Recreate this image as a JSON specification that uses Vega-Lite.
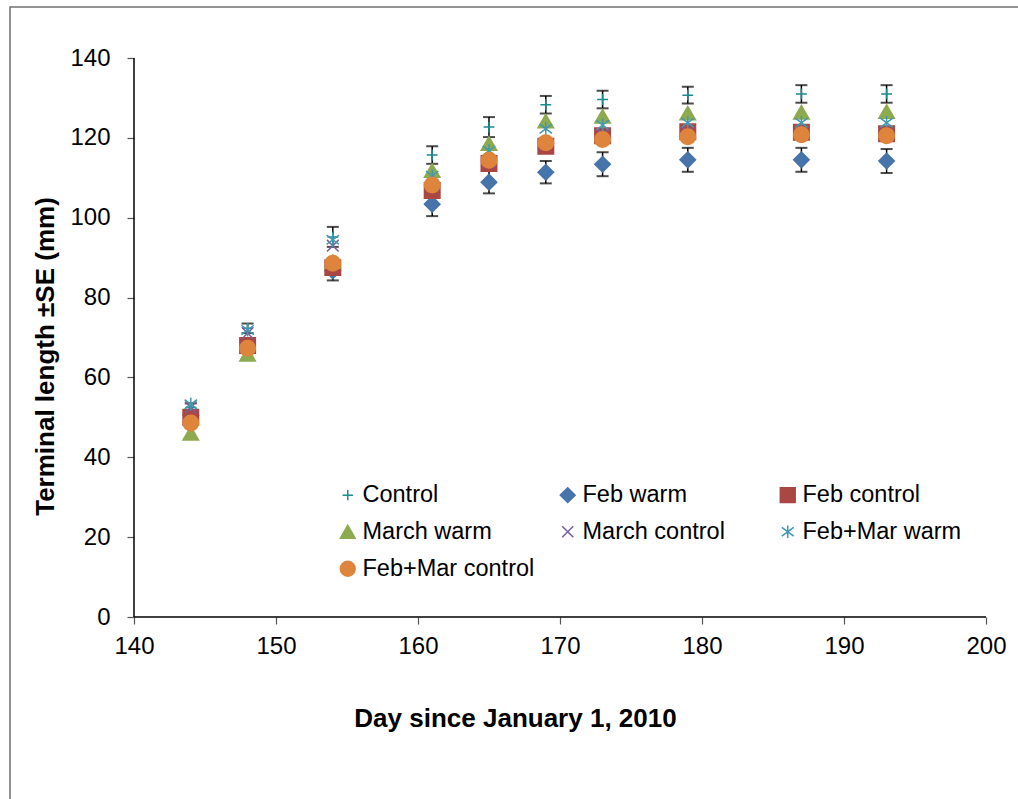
{
  "$schema": "https://vega.github.io/schema/vega-lite/v6.json",
  "width": 1008,
  "height": 792,
  "autosize": "none",
  "padding": {"left": 10, "top": 7, "right": 0, "bottom": 0},
  "background": "white",
  "config": {
    "view": {"stroke": "#707070", "strokeWidth": 1.5, "strokeDash": [1008, 1800, 792]},
    "font": "Liberation Sans",
    "axis": {
      "grid": false,
      "domain": false,
      "tickColor": "#555555",
      "tickWidth": 1.2,
      "tickSize": 7,
      "labelColor": "black",
      "labelFontSize": 24,
      "titleColor": "black",
      "titleFontSize": 26,
      "titleFontWeight": "bold"
    }
  },
  "datasets": {
    "growth": [
      {"day": 144, "series": "Control", "len": 52.5, "se": 1.0},
      {"day": 148, "series": "Control", "len": 72.3, "se": 1.2},
      {"day": 154, "series": "Control", "len": 95.2, "se": 2.5},
      {"day": 161, "series": "Control", "len": 115.7, "se": 2.2},
      {"day": 165, "series": "Control", "len": 122.7, "se": 2.5},
      {"day": 169, "series": "Control", "len": 128.3, "se": 2.2},
      {"day": 173, "series": "Control", "len": 129.6, "se": 2.2},
      {"day": 179, "series": "Control", "len": 130.7, "se": 2.1},
      {"day": 187, "series": "Control", "len": 131.0, "se": 2.2},
      {"day": 193, "series": "Control", "len": 131.0, "se": 2.2},

      {"day": 144, "series": "Feb warm", "len": 50.5, "se": 1.0},
      {"day": 148, "series": "Feb warm", "len": 67.0, "se": 1.0},
      {"day": 154, "series": "Feb warm", "len": 86.7, "se": 2.4},
      {"day": 161, "series": "Feb warm", "len": 103.4, "se": 3.0},
      {"day": 165, "series": "Feb warm", "len": 108.9, "se": 2.8},
      {"day": 169, "series": "Feb warm", "len": 111.4, "se": 2.8},
      {"day": 173, "series": "Feb warm", "len": 113.4, "se": 3.0},
      {"day": 179, "series": "Feb warm", "len": 114.5, "se": 3.0},
      {"day": 187, "series": "Feb warm", "len": 114.5, "se": 3.0},
      {"day": 193, "series": "Feb warm", "len": 114.2, "se": 3.0},

      {"day": 144, "series": "Feb control", "len": 50.0},
      {"day": 148, "series": "Feb control", "len": 68.0},
      {"day": 154, "series": "Feb control", "len": 87.5},
      {"day": 161, "series": "Feb control", "len": 106.8},
      {"day": 165, "series": "Feb control", "len": 113.6},
      {"day": 169, "series": "Feb control", "len": 117.9},
      {"day": 173, "series": "Feb control", "len": 120.5},
      {"day": 179, "series": "Feb control", "len": 121.5},
      {"day": 187, "series": "Feb control", "len": 121.4},
      {"day": 193, "series": "Feb control", "len": 121.0},

      {"day": 144, "series": "March warm", "len": 46.0},
      {"day": 148, "series": "March warm", "len": 65.8},
      {"day": 154, "series": "March warm", "len": 89.0},
      {"day": 161, "series": "March warm", "len": 111.8},
      {"day": 165, "series": "March warm", "len": 118.6},
      {"day": 169, "series": "March warm", "len": 124.2},
      {"day": 173, "series": "March warm", "len": 125.4},
      {"day": 179, "series": "March warm", "len": 126.2},
      {"day": 187, "series": "March warm", "len": 126.4},
      {"day": 193, "series": "March warm", "len": 126.6},

      {"day": 144, "series": "March control", "len": 52.5},
      {"day": 148, "series": "March control", "len": 71.1},
      {"day": 154, "series": "March control", "len": 93.0},
      {"day": 161, "series": "March control", "len": 108.0},
      {"day": 165, "series": "March control", "len": 114.0},
      {"day": 169, "series": "March control", "len": 118.5},
      {"day": 173, "series": "March control", "len": 120.8},
      {"day": 179, "series": "March control", "len": 121.3},
      {"day": 187, "series": "March control", "len": 121.2},
      {"day": 193, "series": "March control", "len": 120.8},

      {"day": 144, "series": "Feb+Mar warm", "len": 53.3},
      {"day": 148, "series": "Feb+Mar warm", "len": 71.9},
      {"day": 154, "series": "Feb+Mar warm", "len": 94.5},
      {"day": 161, "series": "Feb+Mar warm", "len": 110.5},
      {"day": 165, "series": "Feb+Mar warm", "len": 116.8},
      {"day": 169, "series": "Feb+Mar warm", "len": 122.3},
      {"day": 173, "series": "Feb+Mar warm", "len": 123.2},
      {"day": 179, "series": "Feb+Mar warm", "len": 123.8},
      {"day": 187, "series": "Feb+Mar warm", "len": 123.8},
      {"day": 193, "series": "Feb+Mar warm", "len": 123.8},

      {"day": 144, "series": "Feb+Mar control", "len": 48.6},
      {"day": 148, "series": "Feb+Mar control", "len": 67.3},
      {"day": 154, "series": "Feb+Mar control", "len": 88.6},
      {"day": 161, "series": "Feb+Mar control", "len": 108.2},
      {"day": 165, "series": "Feb+Mar control", "len": 114.4},
      {"day": 169, "series": "Feb+Mar control", "len": 118.8},
      {"day": 173, "series": "Feb+Mar control", "len": 119.6},
      {"day": 179, "series": "Feb+Mar control", "len": 120.3},
      {"day": 187, "series": "Feb+Mar control", "len": 120.8},
      {"day": 193, "series": "Feb+Mar control", "len": 120.5}
    ],
    "axisLines": [
      {"x0": 140, "x1": 140, "y0": 0, "y1": 140},
      {"x0": 140, "x1": 200, "y0": 0, "y1": 0}
    ]
  },
  "layer": [
    {
      "data": {"name": "axisLines"},
      "mark": {"type": "rule", "color": "black", "strokeWidth": 1.5},
      "encoding": {
        "x": {
          "field": "x0",
          "type": "quantitative",
          "title": "Day since January 1, 2010",
          "scale": {"domain": [131.268, 202.254], "nice": false, "zero": false},
          "axis": {
            "values": [140, 150, 160, 170, 180, 190, 200],
            "offset": -182,
            "labelPadding": 10,
            "titleX": 505,
            "titleY": 101,
            "titleBaseline": "middle"
          }
        },
        "x2": {"field": "x1"},
        "y": {
          "field": "y0",
          "type": "quantitative",
          "title": "Terminal length ±SE (mm)",
          "scale": {"domain": [-45.58, 152.773], "nice": false, "zero": false},
          "axis": {
            "values": [0, 20, 40, 60, 80, 100, 120, 140],
            "offset": -124,
            "labelPadding": 17,
            "titleX": -89,
            "titleY": 349,
            "titleBaseline": "middle"
          }
        },
        "y2": {"field": "y1"}
      }
    },
    {
      "data": {"name": "growth"},
      "transform": [{"filter": "isValid(datum.se)"}],
      "mark": {
        "type": "errorbar",
        "color": "black",
        "ticks": {"size": 12, "thickness": 2, "color": "black"},
        "rule": {"strokeWidth": 1.5, "color": "black"}
      },
      "encoding": {
        "x": {"field": "day", "type": "quantitative", "title": "Day since January 1, 2010"},
        "y": {"field": "len", "type": "quantitative", "title": "Terminal length ±SE (mm)"},
        "yError": {"field": "se"}
      }
    },
    {
      "data": {"name": "growth"},
      "mark": {"type": "point", "filled": true, "opacity": 1, "strokeWidth": 1.5, "size": 240},
      "encoding": {
        "x": {"field": "day", "type": "quantitative", "title": "Day since January 1, 2010"},
        "y": {"field": "len", "type": "quantitative", "title": "Terminal length ±SE (mm)"},
        "color": {
          "field": "series",
          "type": "nominal",
          "scale": {
            "domain": ["Control", "Feb warm", "Feb control", "March warm", "March control", "Feb+Mar warm", "Feb+Mar control"],
            "range": ["#1b8b8f", "#4674ab", "#aa4643", "#8daa4f", "#7a5c99", "#4198af", "#de843c"]
          },
          "legend": {
            "orient": "none", "direction": "horizontal", "legendX": 326, "legendY": 476, "columns": 3, "gridAlign": "all",
            "columnPadding": 21, "rowPadding": 12, "labelFontSize": 23.5, "labelColor": "black", "labelLimit": 400,
            "symbolSize": 220, "labelOffset": 3, "title": null, "symbolStrokeWidth": 1.5
          }
        },
        "stroke": {
          "field": "series",
          "type": "nominal",
          "scale": {
            "domain": ["Control", "Feb warm", "Feb control", "March warm", "March control", "Feb+Mar warm", "Feb+Mar control"],
            "range": ["#1b8b8f", "#4674ab", "#aa4643", "#8daa4f", "#7a5c99", "#4198af", "#de843c"]
          },
          "legend": {
            "orient": "none", "direction": "horizontal", "legendX": 326, "legendY": 476, "columns": 3, "gridAlign": "all",
            "columnPadding": 21, "rowPadding": 12, "labelFontSize": 23.5, "labelColor": "black", "labelLimit": 400,
            "symbolSize": 220, "labelOffset": 3, "title": null, "symbolStrokeWidth": 1.5
          }
        },
        "shape": {
          "field": "series",
          "type": "nominal",
          "scale": {
            "domain": ["Control", "Feb warm", "Feb control", "March warm", "March control", "Feb+Mar warm", "Feb+Mar control"],
            "range": [
              "M-0.7,0L0.7,0M0,-0.7L0,0.7",
              "diamond",
              "square",
              "triangle-up",
              "M-0.75,-0.75L0.75,0.75M-0.75,0.75L0.75,-0.75",
              "M-0.8,-0.6L0.8,0.6M-0.8,0.6L0.8,-0.6M0,-0.85L0,0.85",
              "circle"
            ]
          },
          "legend": {
            "orient": "none", "direction": "horizontal", "legendX": 326, "legendY": 476, "columns": 3, "gridAlign": "all",
            "columnPadding": 21, "rowPadding": 12, "labelFontSize": 23.5, "labelColor": "black", "labelLimit": 400,
            "symbolSize": 220, "labelOffset": 3, "title": null, "symbolStrokeWidth": 1.5
          }
        }
      }
    }
  ]
}
